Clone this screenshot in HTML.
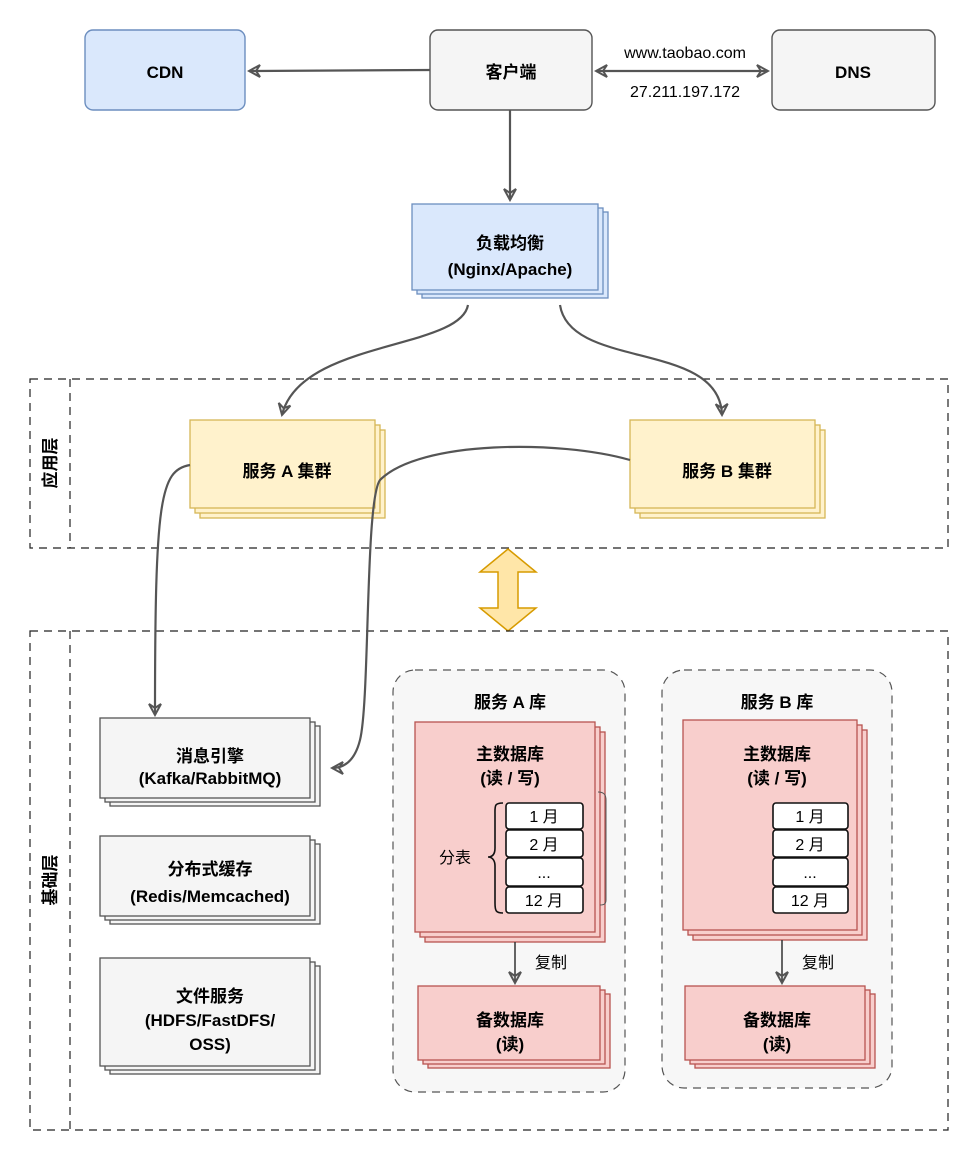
<!DOCTYPE html>
<html><head><meta charset="utf-8"><style>
html,body{margin:0;padding:0;background:#fff;}
svg{display:block;font-family:"Liberation Sans","Noto Sans CJK SC",sans-serif;}
.b{font-weight:bold;font-size:17px;}
.t{font-size:16px;}
</style></head><body>
<svg width="979" height="1161" viewBox="0 0 979 1161" xmlns="http://www.w3.org/2000/svg">
<defs>
<marker id="a" viewBox="0 0 14 14" refX="12" refY="7" markerWidth="14" markerHeight="14" markerUnits="userSpaceOnUse" orient="auto-start-reverse"><path d="M1,1 L12,7 L1,13 L5,7 Z" fill="none" stroke="#555" stroke-width="2"/></marker>
</defs>
<g stroke-width="1.4">
<rect x="85" y="30" width="160" height="80" rx="8" fill="#dae8fc" stroke="#6c8ebf"/>
<rect x="430" y="30" width="162" height="80" rx="8" fill="#f5f5f5" stroke="#555"/>
<rect x="772" y="30" width="163" height="80" rx="8" fill="#f5f5f5" stroke="#555"/>
</g>
<text x="165" y="78" text-anchor="middle" class="b">CDN</text>
<text x="511" y="78" text-anchor="middle" class="b">客户端</text>
<text x="853" y="78" text-anchor="middle" class="b">DNS</text>
<line x1="430" y1="70" x2="249" y2="71" stroke="#555" stroke-width="2.2" marker-end="url(#a)"/>
<line x1="596" y1="71" x2="768" y2="71" stroke="#555" stroke-width="2.2" marker-start="url(#a)" marker-end="url(#a)"/>
<text x="685" y="58" text-anchor="middle" class="t">www.taobao.com</text>
<text x="685" y="97" text-anchor="middle" class="t">27.211.197.172</text>
<line x1="510" y1="110" x2="510" y2="200" stroke="#555" stroke-width="2.2" marker-end="url(#a)"/>
<g fill="#dae8fc" stroke="#6c8ebf" stroke-width="1.3">
<rect x="422" y="212" width="186" height="86"/><rect x="417" y="208" width="186" height="86"/><rect x="412" y="204" width="186" height="86"/>
</g>
<text x="510" y="249" text-anchor="middle" class="b">负载均衡</text>
<text x="510" y="275" text-anchor="middle" class="b">(Nginx/Apache)</text>
<rect x="30" y="379" width="918" height="169" fill="none" stroke="#222" stroke-width="1.2" stroke-dasharray="8 6"/>
<line x1="70" y1="379" x2="70" y2="548" stroke="#222" stroke-width="1.2" stroke-dasharray="8 6"/>
<text transform="translate(56,463) rotate(-90)" text-anchor="middle" class="b">应用层</text>
<path d="M468,305 C460,350 300,340 282,415" fill="none" stroke="#555" stroke-width="2.2" marker-end="url(#a)"/>
<path d="M560,305 C570,370 720,340 722,415" fill="none" stroke="#555" stroke-width="2.2" marker-end="url(#a)"/>
<g fill="#fff2cc" stroke="#d6b656" stroke-width="1.3">
<rect x="200" y="430" width="185" height="88"/><rect x="195" y="425" width="185" height="88"/><rect x="190" y="420" width="185" height="88"/>
<rect x="640" y="430" width="185" height="88"/><rect x="635" y="425" width="185" height="88"/><rect x="630" y="420" width="185" height="88"/>
</g>
<text x="287" y="477" text-anchor="middle" class="b">服务 A 集群</text>
<text x="727" y="477" text-anchor="middle" class="b">服务 B 集群</text>
<path d="M508,549 L536,572 L518,572 L518,608 L536,608 L508,631 L480,608 L498,608 L498,572 L480,572 Z" fill="#ffe6a8" stroke="#d79b00" stroke-width="1.5"/>
<rect x="30" y="631" width="918" height="499" fill="none" stroke="#222" stroke-width="1.2" stroke-dasharray="8 6"/>
<line x1="70" y1="631" x2="70" y2="1130" stroke="#222" stroke-width="1.2" stroke-dasharray="8 6"/>
<text transform="translate(56,880) rotate(-90)" text-anchor="middle" class="b">基础层</text>
<path d="M190,465 C160,470 155,500 155,715" fill="none" stroke="#555" stroke-width="2.2" marker-end="url(#a)"/>
<path d="M630,460 C560,440 420,440 380,480 C365,500 370,700 360,740 C355,760 345,768 332,768" fill="none" stroke="#555" stroke-width="2.2" marker-end="url(#a)"/>
<g fill="#f5f5f5" stroke="#555" stroke-width="1.3">
<rect x="110" y="726" width="210" height="80"/><rect x="105" y="722" width="210" height="80"/><rect x="100" y="718" width="210" height="80"/>
<rect x="110" y="844" width="210" height="80"/><rect x="105" y="840" width="210" height="80"/><rect x="100" y="836" width="210" height="80"/>
<rect x="110" y="966" width="210" height="108"/><rect x="105" y="962" width="210" height="108"/><rect x="100" y="958" width="210" height="108"/>
</g>
<text x="210" y="762" text-anchor="middle" class="b">消息引擎</text>
<text x="210" y="784" text-anchor="middle" class="b">(Kafka/RabbitMQ)</text>
<text x="210" y="875" text-anchor="middle" class="b">分布式缓存</text>
<text x="210" y="902" text-anchor="middle" class="b">(Redis/Memcached)</text>
<text x="210" y="1002" text-anchor="middle" class="b">文件服务</text>
<text x="210" y="1026" text-anchor="middle" class="b">(HDFS/FastDFS/</text>
<text x="210" y="1050" text-anchor="middle" class="b">OSS)</text>
<rect x="393" y="670" width="232" height="422" rx="22" fill="#f7f7f7" stroke="#555" stroke-width="1.2" stroke-dasharray="8 6"/>
<text x="510" y="708" text-anchor="middle" class="b">服务 A 库</text>
<g fill="#f8cecc" stroke="#b85450" stroke-width="1.3">
<rect x="425" y="732" width="180" height="210"/><rect x="420" y="727" width="180" height="210"/><rect x="415" y="722" width="180" height="210"/>
</g>
<text x="510" y="760" text-anchor="middle" class="b">主数据库</text>
<text x="510" y="784" text-anchor="middle" class="b">(读 / 写)</text>
<g fill="#fff" stroke="#111" stroke-width="1.6">
<rect x="506" y="803" width="77" height="26" rx="3"/><rect x="506" y="830" width="77" height="27" rx="3"/><rect x="506" y="858" width="77" height="28" rx="3"/><rect x="506" y="887" width="77" height="26" rx="3"/>
</g>
<g class="t" text-anchor="middle"><text x="544" y="822">1 月</text><text x="544" y="850">2 月</text><text x="544" y="878">...</text><text x="544" y="906">12 月</text></g>
<path d="M503,803 C494,803 495,806 495,815 L495,848 C495,855 492,857 488,857 C492,857 495,860 495,866 L495,903 C495,911 496,913 503,913" fill="none" stroke="#111" stroke-width="1.6"/>
<text x="455" y="863" text-anchor="middle" class="t">分表</text>
<path d="M598,792 C605,792 606,796 606,800 L606,900 C606,904 604,905 600,905" fill="none" stroke="#555"/>
<line x1="515" y1="942" x2="515" y2="983" stroke="#333" stroke-width="1.5" marker-end="url(#a)"/>
<text x="551" y="968" text-anchor="middle" class="t">复制</text>
<g fill="#f8cecc" stroke="#b85450" stroke-width="1.3">
<rect x="428" y="994" width="182" height="74"/><rect x="423" y="990" width="182" height="74"/><rect x="418" y="986" width="182" height="74"/>
</g>
<text x="510" y="1026" text-anchor="middle" class="b">备数据库</text>
<text x="510" y="1050" text-anchor="middle" class="b">(读)</text>
<rect x="662" y="670" width="230" height="418" rx="22" fill="#f7f7f7" stroke="#555" stroke-width="1.2" stroke-dasharray="8 6"/>
<text x="777" y="708" text-anchor="middle" class="b">服务 B 库</text>
<g fill="#f8cecc" stroke="#b85450" stroke-width="1.3">
<rect x="693" y="730" width="174" height="210"/><rect x="688" y="725" width="174" height="210"/><rect x="683" y="720" width="174" height="210"/>
</g>
<text x="777" y="760" text-anchor="middle" class="b">主数据库</text>
<text x="777" y="784" text-anchor="middle" class="b">(读 / 写)</text>
<g fill="#fff" stroke="#111" stroke-width="1.6">
<rect x="773" y="803" width="75" height="26" rx="3"/><rect x="773" y="830" width="75" height="27" rx="3"/><rect x="773" y="858" width="75" height="28" rx="3"/><rect x="773" y="887" width="75" height="26" rx="3"/>
</g>
<g class="t" text-anchor="middle"><text x="810" y="822">1 月</text><text x="810" y="850">2 月</text><text x="810" y="878">...</text><text x="810" y="906">12 月</text></g>
<line x1="782" y1="940" x2="782" y2="983" stroke="#333" stroke-width="1.5" marker-end="url(#a)"/>
<text x="818" y="968" text-anchor="middle" class="t">复制</text>
<g fill="#f8cecc" stroke="#b85450" stroke-width="1.3">
<rect x="695" y="994" width="180" height="74"/><rect x="690" y="990" width="180" height="74"/><rect x="685" y="986" width="180" height="74"/>
</g>
<text x="777" y="1026" text-anchor="middle" class="b">备数据库</text>
<text x="777" y="1050" text-anchor="middle" class="b">(读)</text>
</svg>
</body></html>
